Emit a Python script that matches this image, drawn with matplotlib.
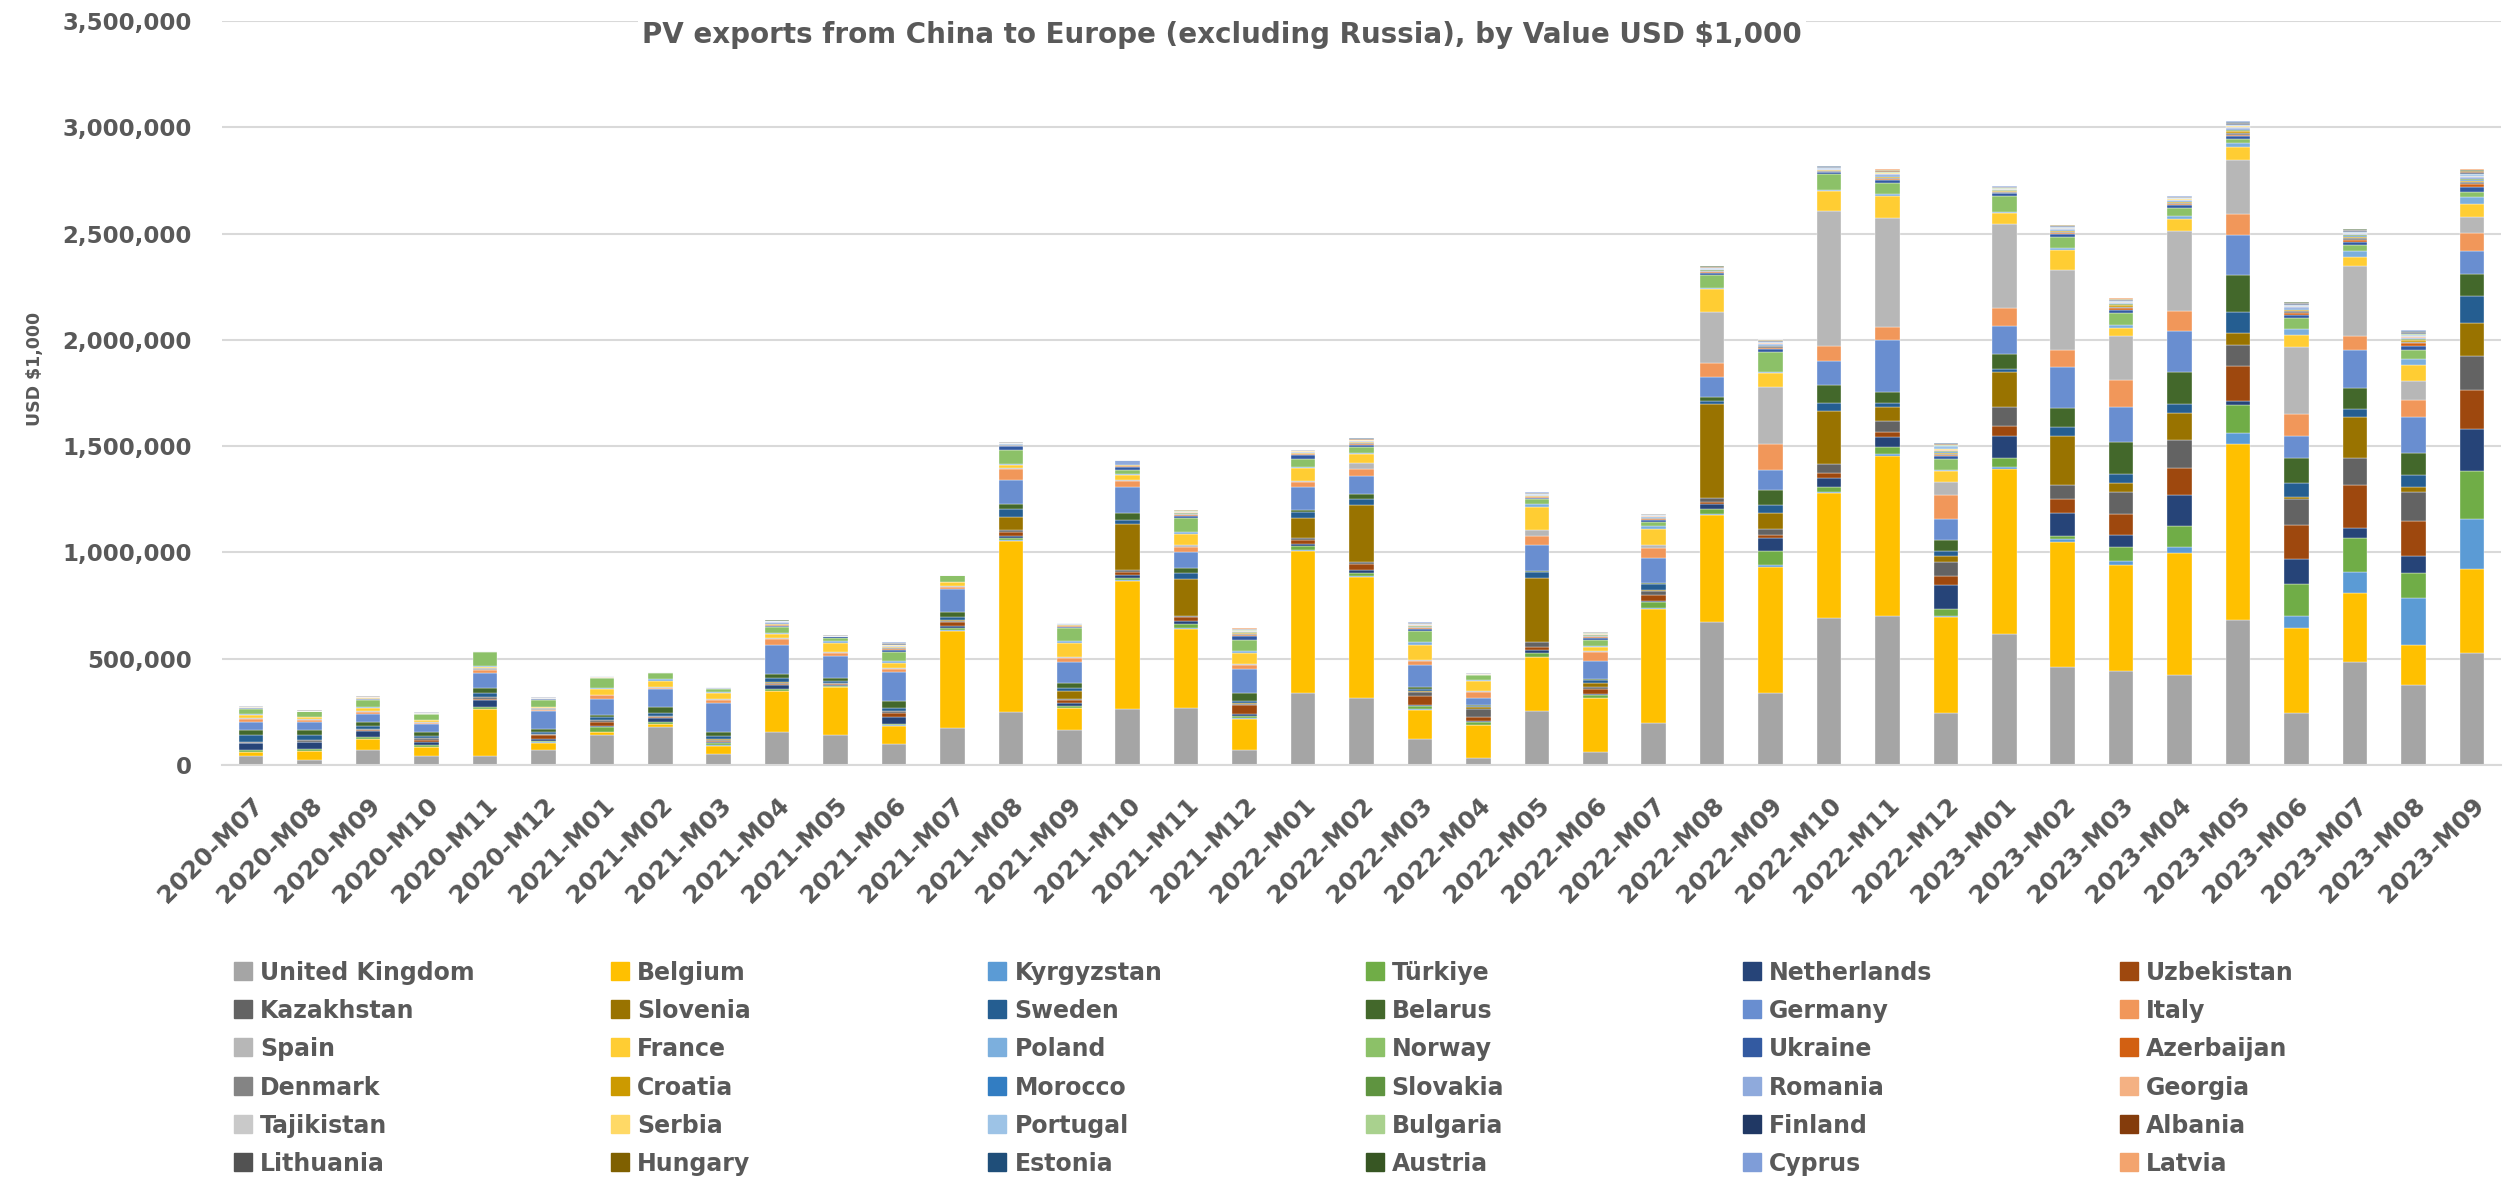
import numpy as np
import matplotlib
matplotlib.use("Agg")
import matplotlib.pyplot as plt
from matplotlib.patches import Rectangle
from matplotlib.ticker import FuncFormatter

plt.rcParams['font.family'] = ['DejaVu Sans']
plt.rcParams['font.weight'] = 'bold'

W, H = 2514, 1179
TXT = '#595959'

months = ['2020-M07', '2020-M08', '2020-M09', '2020-M10', '2020-M11', '2020-M12',
          '2021-M01', '2021-M02', '2021-M03', '2021-M04', '2021-M05', '2021-M06',
          '2021-M07', '2021-M08', '2021-M09', '2021-M10', '2021-M11', '2021-M12',
          '2022-M01', '2022-M02', '2022-M03', '2022-M04', '2022-M05', '2022-M06',
          '2022-M07', '2022-M08', '2022-M09', '2022-M10', '2022-M11', '2022-M12',
          '2023-M01', '2023-M02', '2023-M03', '2023-M04', '2023-M05', '2023-M06',
          '2023-M07', '2023-M08', '2023-M09']

# values in thousands of the axis unit (USD $1,000)
united_kingdom = [44,25,72,44,44,72,142,181,53,157,142,97,176,247,166,263,266,70,341,313,122,34,252,61,196,671,338,690,703,246,614,461,442,425,684,246,484,378,529]
belgium = [16,41,50,41,219,33,11,11,38,190,223,86,456,808,100,601,376,146,664,573,138,153,254,252,538,505,594,588,752,448,779,588,499,571,826,397,325,187,391]
kyrgyzstan = [3,2,2,2,2,2,2,2,2,3,3,3,3,4,3,4,4,3,5,4,3,3,4,3,5,6,9,6,9,9,11,13,21,30,53,57,100,219,236]
turkiye = [8,9,8,5,8,6,24,6,11,9,5,9,9,9,9,11,16,11,22,13,16,13,17,13,27,23,64,25,34,30,42,15,62,96,129,151,157,121,227]
netherlands = [31,30,30,16,33,9,5,22,6,19,4,30,8,9,13,14,17,8,6,14,5,5,14,5,5,23,62,40,47,112,102,108,59,146,19,119,51,79,198]
uzbekistan = [3,3,3,11,6,19,20,4,4,5,3,19,19,17,16,17,19,45,22,28,39,16,13,23,28,8,15,26,21,45,45,66,98,130,164,161,200,166,183]
kazakhstan = [3,6,5,8,6,5,8,4,4,5,5,9,8,11,3,6,5,5,9,8,20,39,23,8,19,19,26,40,53,66,93,68,104,130,102,121,129,134,159]
slovenia = [0,1,1,1,2,1,1,1,2,2,2,2,3,63,38,216,171,4,91,272,5,8,302,20,5,444,76,248,66,26,163,231,42,129,57,9,191,25,157]
sweden = [35,22,13,8,17,8,13,13,16,19,6,11,13,34,16,22,31,11,31,28,11,5,30,14,28,13,40,42,19,26,15,38,40,42,98,66,40,55,127]
belarus = [24,27,17,20,24,16,11,31,19,17,16,35,27,25,20,30,22,38,9,23,8,5,5,4,6,19,70,81,51,49,70,93,153,151,174,119,98,106,102]
germany = [35,35,38,35,74,83,74,82,138,140,105,138,105,113,102,124,77,110,108,83,102,34,120,86,116,96,95,115,242,100,130,191,164,191,189,102,178,168,108]
italy = [13,11,11,8,14,5,16,5,14,25,13,13,11,53,17,28,23,19,23,34,19,30,42,42,47,64,119,68,62,112,87,81,125,95,95,104,66,81,85]
spain = [5,5,5,3,9,9,4,4,4,5,4,4,5,6,3,4,8,4,5,28,5,3,30,3,17,242,270,635,514,60,395,376,210,376,255,316,329,89,76]
france = [14,8,13,9,5,4,27,27,28,19,44,24,16,11,67,23,52,55,59,42,70,47,108,23,72,104,64,98,102,53,53,96,38,57,64,57,43,72,60]
poland = [5,3,3,2,3,3,3,11,5,4,6,11,4,6,8,5,8,5,8,3,16,4,13,5,13,8,8,4,9,8,4,8,15,15,15,28,26,28,36]
norway = [24,24,33,25,64,33,47,31,13,31,16,41,30,67,63,19,67,56,36,31,52,23,23,27,23,59,93,74,53,49,76,53,55,38,20,49,30,43,23]
ukraine = [4,2,5,3,8,3,3,1,3,6,9,10,1,16,7,16,11,16,19,10,9,3,7,9,9,10,15,8,15,15,10,13,15,12,14,16,15,18,20]
azerbaijan = [1,0,1,1,0,1,1,0,1,2,0,3,0,3,2,3,3,4,3,4,3,1,2,3,3,4,5,3,5,5,4,5,6,6,8,10,10,14,15]
denmark = [2,1,2,1,0,1,1,1,1,2,0,5,0,3,3,2,3,8,3,4,4,1,3,4,4,4,6,4,6,6,4,5,7,5,8,8,8,8,9]
croatia = [1,0,2,1,0,1,1,0,1,2,0,3,0,2,2,1,3,3,3,3,3,1,2,3,3,3,4,3,5,5,3,4,8,4,7,6,6,6,8]
morocco = [0,0,1,0,0,0,1,0,0,1,0,1,0,1,1,1,1,1,1,1,1,0,1,1,1,1,2,1,2,2,1,2,2,2,3,2,2,3,3]
slovakia = [1,0,1,0,0,1,0,0,1,1,1,2,0,1,1,1,2,2,2,2,2,0,1,1,1,2,2,1,3,3,2,2,3,2,4,3,3,4,4]
romania = [1,0,1,1,0,1,1,0,1,8,1,4,0,2,2,23,2,3,2,3,3,1,3,3,3,3,4,3,5,4,3,4,4,4,7,6,6,7,8]
georgia = [0,0,1,0,0,0,0,0,0,1,0,1,0,1,1,0,1,1,1,1,1,0,1,1,1,1,2,1,2,2,1,2,2,2,3,2,2,3,3]
tajikistan = [1,0,0,0,0,0,0,0,0,0,0,1,0,1,1,0,1,1,1,1,1,0,1,1,1,1,2,1,2,2,1,2,2,1,3,2,2,3,3]
serbia = [0,0,1,0,0,0,0,0,0,1,0,1,0,1,1,0,1,1,1,1,1,0,1,1,1,1,1,1,2,2,1,2,2,2,3,3,2,3,3]
portugal = [1,0,1,1,0,1,1,0,1,2,0,2,0,1,1,0,2,2,2,2,2,1,2,2,2,3,3,2,3,18,3,3,4,3,5,4,4,5,6]
bulgaria = [0,0,1,0,0,0,0,0,0,1,0,1,0,1,1,0,1,1,1,1,1,0,1,1,1,1,2,1,2,2,1,2,2,1,3,2,2,3,3]
finland = [1,1,1,1,0,1,1,1,1,1,1,3,1,1,1,0,2,2,2,1,2,1,1,2,1,2,2,2,3,2,2,2,2,2,3,3,3,3,4]
albania = [0,0,0,0,0,0,0,0,0,0,0,1,0,0,0,0,1,1,0,1,1,0,1,1,1,1,1,1,1,1,1,1,1,1,2,1,2,2,2]
lithuania = [1,1,1,1,0,1,1,1,1,1,1,3,1,1,1,0,1,2,1,2,2,1,1,2,2,2,2,2,3,3,2,2,2,2,3,3,3,3,4]
hungary = [0,0,0,0,0,0,0,0,0,0,0,1,0,0,0,0,1,1,0,1,1,0,1,1,1,1,1,1,1,1,1,1,1,1,2,1,1,2,2]
estonia = [0,0,0,0,0,0,0,0,0,0,0,1,0,0,0,0,1,1,0,1,1,0,1,1,1,1,1,1,1,1,1,1,1,1,2,1,1,2,2]
austria = [1,1,1,0,0,0,1,0,0,1,1,1,0,1,1,0,1,1,1,1,1,0,1,1,1,1,1,1,2,2,1,1,2,1,2,2,2,3,3]
cyprus = [0,0,0,0,0,0,0,0,0,0,0,1,0,0,0,0,0,1,0,0,1,0,1,1,1,1,1,1,1,1,1,1,1,1,2,1,1,2,2]
latvia = [0,0,0,0,0,0,0,0,0,0,0,0,0,0,0,0,0,1,0,0,0,0,0,0,0,1,1,0,1,1,1,1,1,1,1,1,1,1,1]

series = [
    ("United Kingdom", united_kingdom, "#A5A5A5"), ("Belgium", belgium, "#FFC000"),
    ("Kyrgyzstan", kyrgyzstan, "#5B9BD5"), ("Türkiye", turkiye, "#70AD47"),
    ("Netherlands", netherlands, "#264478"), ("Uzbekistan", uzbekistan, "#9E480E"),
    ("Kazakhstan", kazakhstan, "#636363"), ("Slovenia", slovenia, "#997300"),
    ("Sweden", sweden, "#255E91"), ("Belarus", belarus, "#43682B"),
    ("Germany", germany, "#698ED0"), ("Italy", italy, "#F1975A"),
    ("Spain", spain, "#B7B7B7"), ("France", france, "#FFCD33"),
    ("Poland", poland, "#7CAFDD"), ("Norway", norway, "#8CC168"),
    ("Ukraine", ukraine, "#335AA1"), ("Azerbaijan", azerbaijan, "#D26012"),
    ("Denmark", denmark, "#848484"), ("Croatia", croatia, "#CC9A00"),
    ("Morocco", morocco, "#327DC2"), ("Slovakia", slovakia, "#5F9440"),
    ("Romania", romania, "#8FAADC"), ("Georgia", georgia, "#F4B183"),
    ("Tajikistan", tajikistan, "#C9C9C9"), ("Serbia", serbia, "#FFD966"),
    ("Portugal", portugal, "#9DC3E6"), ("Bulgaria", bulgaria, "#A9D18E"),
    ("Finland", finland, "#203864"), ("Albania", albania, "#843C0C"),
    ("Lithuania", lithuania, "#525252"), ("Hungary", hungary, "#7F6000"),
    ("Estonia", estonia, "#1F4E79"), ("Austria", austria, "#375623"),
    ("Cyprus", cyprus, "#7F9DD8"), ("Latvia", latvia, "#F3A46E"),
]

fig = plt.figure(figsize=(W / 100, H / 100), dpi=100)
ax = fig.add_axes([222 / W, 1 - 765 / H, (2501 - 222) / W, (765 - 21) / H])

x = np.arange(len(months))
bottom = np.zeros(len(months))
for name, vals, col in series:
    v = np.array(vals, dtype=float) * 1000.0
    ax.bar(x, v, 0.42, bottom=bottom, color=col, label=name,
           edgecolor='white', linewidth=0.25)
    bottom += v

ax.set_xlim(-0.5, len(months) - 0.5)
ax.set_ylim(0, 3500000)
ax.set_yticks(np.arange(0, 3500001, 500000))
ax.yaxis.set_major_formatter(FuncFormatter(lambda v, p: f"{v:,.0f}"))
ax.yaxis.grid(True, color='#D9D9D9', linewidth=1.5)
ax.set_axisbelow(True)
for s in ['top', 'right', 'left']:
    ax.spines[s].set_visible(False)
ax.spines['bottom'].set_color('#D9D9D9')
ax.spines['bottom'].set_linewidth(1.5)
ax.tick_params(axis='y', length=0, pad=22, labelsize=16.5, labelcolor=TXT)
ax.tick_params(axis='x', length=0, pad=20, labelsize=17.8, labelcolor=TXT)
ax.set_xticks(x)
ax.set_xticklabels(months, rotation=45, ha='right', rotation_mode='anchor')

fig.text(35 / W, 1 - 369 / H, 'USD $1,000', rotation=90, ha='center', va='center',
         fontsize=12.5, color=TXT)
fig.text(1222 / W, 1 - 43 / H,
         'PV exports from China to Europe (excluding Russia), by Value USD $1,000',
         ha='center', va='baseline', fontsize=20, color=TXT,
         bbox=dict(fc='white', ec='none', pad=3))

# legend, 6 columns filled row by row
for k, (name, vals, col) in enumerate(series):
    r, c = divmod(k, 6)
    px = 234 + 377.2 * c
    py = 971 + 38.2 * r
    fig.patches.append(Rectangle((px / W, 1 - (py + 9) / H), 18 / W, 18 / H,
                                 transform=fig.transFigure, color=col))
    fig.text((px + 26) / W, 1 - (py + 9) / H, name, ha='left', va='baseline',
             fontsize=17, color=TXT)

fig.savefig('out.png', dpi=100)
